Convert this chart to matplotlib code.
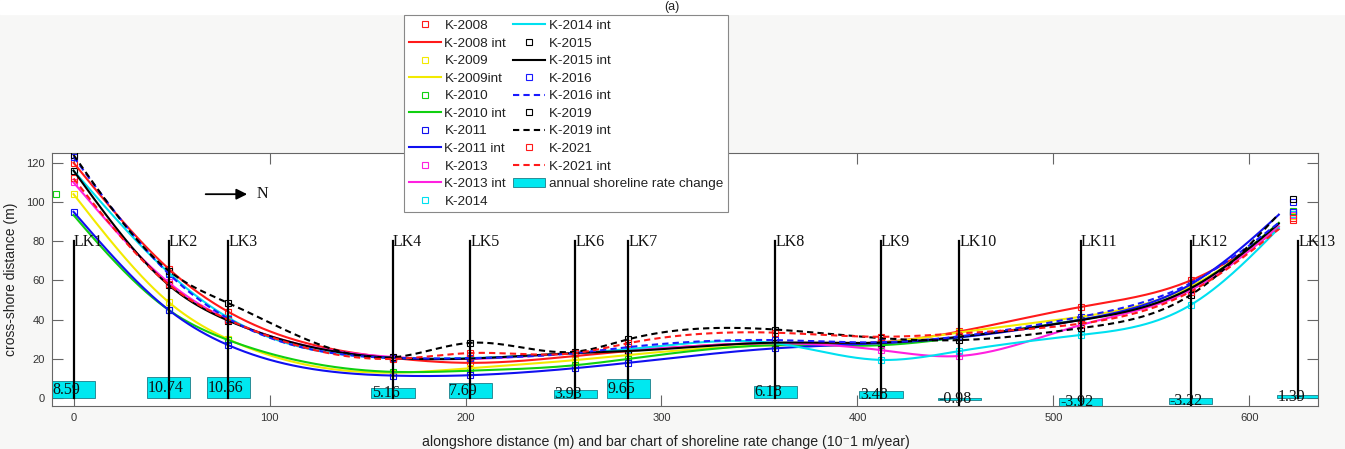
import numpy as np
import matplotlib
matplotlib.use("Agg")
import matplotlib.pyplot as plt
from matplotlib.lines import Line2D
from matplotlib.patches import Patch, Rectangle

# ---------------------------------------------------------------- data
station_names = ["LK1", "LK2", "LK3", "LK4", "LK5", "LK6", "LK7",
                 "LK8", "LK9", "LK10", "LK11", "LK12", "LK13"]
station_x = [0, 48.5, 79, 163, 202.5, 256, 283, 358, 412, 452, 514, 570, 625]

# annual shoreline rate change (10^-1 m/year) at each station
rate_change = [8.59, 10.74, 10.66, 5.16, 7.69, 3.93, 9.65,
               6.18, 3.48, -0.98, -3.92, -3.22, 1.39]

# survey positions along the shore (m) and cross-shore distance (m) per year
survey_x = [0, 48.5, 79, 163, 202.5, 256, 283, 358, 412, 452, 514, 570, 622]
survey_x_2010 = [-9, 48.5, 79, 163, 202.5, 256, 283, 358, 412, 452, 514, 570, 622]

k2008 = [120, 66, 44, 20.5, 18.0, 21.5, 24.0, 28.0, 28.5, 34.0, 46.5, 60.0, 91.0]
k2009 = [104, 49, 30, 13.0, 15.3, 19.4, 22.0, 27.0, 28.3, 33.5, 41.5, 57.0, 93.0]
k2010 = [104, 45, 29.6, 13.4, 14.0, 16.8, 20.0, 27.0, 27.0, 31.0, 40.0, 56.0, 95.5]
k2011 = [95, 45, 27, 11.5, 11.7, 15.3, 18.0, 25.4, 28.0, 31.0, 40.0, 58.0, 100.0]
k2013 = [110, 59, 40, 21.0, 20.0, 23.0, 24.5, 28.0, 24.5, 21.5, 37.3, 55.0, 93.5]
k2014 = [116, 64, 41, 20.5, 20.4, 23.0, 25.0, 28.0, 19.5, 24.0, 32.2, 47.5, 94.0]
k2015 = [116, 57.7, 39.5, 20.5, 20.2, 23.0, 24.0, 28.3, 28.3, 31.3, 39.8, 56.0, 95.0]
k2016 = [123, 63.5, 40.5, 20.5, 20.4, 23.0, 26.0, 29.6, 28.5, 31.5, 41.5, 58.6, 95.0]
k2019 = [124, 65, 48.5, 20.8, 28.2, 23.7, 30.0, 35.0, 30.6, 29.6, 35.7, 52.6, 101.6]
k2021 = [112, 58, 40, 20.0, 23.0, 23.0, 28.0, 33.4, 31.3, 33.0, 38.0, 54.3, 92.0]

years = ["2008", "2009", "2010", "2011", "2013", "2014",
         "2015", "2016", "2019", "2021"]
year_values = [k2008, k2009, k2010, k2011, k2013, k2014,
               k2015, k2016, k2019, k2021]
year_positions = [survey_x, survey_x, survey_x_2010, survey_x, survey_x,
                  survey_x, survey_x, survey_x, survey_x, survey_x]

# ---------------------------------------------------------------- styles
year_colors = ["#ff1a1a", "#f2ea00", "#10d010", "#1010f0", "#ff20e0",
               "#00e0f0", "#000000", "#1a1aff", "#000000", "#ff1a1a"]
year_dashed = [False, False, False, False, False, False,
               False, True, True, True]
int_labels = ["K-2008 int", "K-2009int", "K-2010 int", "K-2011 int",
              "K-2013 int", "K-2014 int", "K-2015 int", "K-2016 int",
              "K-2019 int", "K-2021 int"]
bar_color = "#00e8f0"
sans = ["Liberation Sans", "DejaVu Sans"]
serif = ["Liberation Serif", "DejaVu Serif"]


def natural_spline(xk, yk, xs):
    """Evaluate a natural cubic spline through (xk, yk) at xs."""
    xk = np.asarray(xk, float)
    yk = np.asarray(yk, float)
    n = len(xk)
    h = np.diff(xk)
    A = np.zeros((n, n))
    r = np.zeros(n)
    A[0, 0] = A[-1, -1] = 1.0
    for i in range(1, n - 1):
        A[i, i - 1] = h[i - 1]
        A[i, i] = 2 * (h[i - 1] + h[i])
        A[i, i + 1] = h[i]
        r[i] = 3 * ((yk[i + 1] - yk[i]) / h[i] - (yk[i] - yk[i - 1]) / h[i - 1])
    c = np.linalg.solve(A, r)
    b = (yk[1:] - yk[:-1]) / h - h * (2 * c[:-1] + c[1:]) / 3
    d = (c[1:] - c[:-1]) / (3 * h)
    idx = np.clip(np.searchsorted(xk, xs) - 1, 0, n - 2)
    dx = xs - xk[idx]
    return yk[idx] + b[idx] * dx + c[idx] * dx ** 2 + d[idx] * dx ** 3


# ---------------------------------------------------------------- figure
fig = plt.figure(figsize=(13.45, 4.49), dpi=100, facecolor="#f7f7f6")
fig.patches.append(Rectangle((0, 1 - 14 / 449), 1, 14 / 449,
                             transform=fig.transFigure, color="white",
                             zorder=0))
fig.text(672 / 1345, 1 - 7 / 449, "(a)", ha="center", va="center",
         fontsize=9, family=sans, color="#222")

ax = fig.add_axes([52 / 1345, 1 - 406 / 449, 1266 / 1345, 253 / 449])
ax.set_facecolor("white")
ax.set_xlim(-11, 635)
ax.set_ylim(-4, 125)

# bar chart of shoreline rate change
bar_w = 22
ax.bar(station_x, rate_change, width=bar_w, color=bar_color,
       edgecolor="#1b7d88", linewidth=0.6, zorder=2)
for x, v in zip(station_x, rate_change):
    ax.text(x - bar_w / 2 + 0.3, v / 2, f"{v:.2f}", ha="left", va="center",
            fontsize=11.5, family=serif, color="#111", zorder=6,
            clip_on=True)

# survey points and interpolated shorelines
xs = np.linspace(0, 615, 600)
for xp, vals, col, dashed in zip(year_positions, year_values,
                                 year_colors, year_dashed):
    ax.plot(xp, vals, linestyle="none", marker="s", markersize=5,
            markerfacecolor="none", markeredgecolor=col,
            markeredgewidth=0.8, zorder=3)
    ys = natural_spline(xp, vals, xs)
    ax.plot(xs, ys, color=col, linewidth=1.5,
            linestyle=(0, (3, 2)) if dashed else "-", zorder=4)

# transect lines and labels
for name, x, v in zip(station_names, station_x, rate_change):
    y0 = 0 if v >= 0 else -4
    ax.plot([x, x], [y0, 80], color="black", linewidth=1.6, zorder=5)
    ax.text(x, 79.5, name, ha="left", va="center", fontsize=11.5,
            family=serif, color="#111", zorder=6)

# north arrow
ax.annotate("", xy=(90, 104), xytext=(66, 104),
            arrowprops=dict(arrowstyle="-|>", color="black", lw=1.3,
                            mutation_scale=16))
ax.text(93.5, 104, "N", ha="left", va="center", fontsize=11.5,
        family=serif, color="#111")

# axes styling
ax.set_xticks([0, 100, 200, 300, 400, 500, 600])
ax.set_yticks([0, 20, 40, 60, 80, 100, 120])
ax.tick_params(direction="in", length=8, width=0.8, color="#666",
               labelsize=8, labelcolor="#333", top=True, right=True,
               pad=5)
for lbl in ax.get_xticklabels() + ax.get_yticklabels():
    lbl.set_family(sans)
for s in ax.spines.values():
    s.set_color("#666")
    s.set_linewidth(0.8)

ax.set_xlabel("alongshore distance (m) and bar chart of shoreline rate "
              "change (10\u207b1 m/year)", fontsize=10.2, family=sans,
              color="#222", labelpad=6)
ax.xaxis.set_label_coords((666 - 52) / 1266, -0.115)
ax.set_ylabel("cross-shore distance (m)", fontsize=10, family=sans,
              color="#222", labelpad=6)

# legend
handles, labels = [], []
for yr, col, dashed, il in zip(years, year_colors, year_dashed, int_labels):
    handles.append(Line2D([], [], linestyle="none", marker="s",
                          markersize=4.5, markerfacecolor="none",
                          markeredgecolor=col, markeredgewidth=0.8))
    labels.append(f"K-{yr}")
    handles.append(Line2D([], [], color=col, linewidth=1.5,
                          linestyle=(0, (3, 2)) if dashed else "-"))
    labels.append(il)
handles.append(Patch(facecolor=bar_color, edgecolor="#1b7d88", linewidth=0.6))
labels.append("annual shoreline rate change")

leg = fig.legend(handles, labels, ncol=2, loc="upper left",
                 bbox_to_anchor=(404 / 1345, 1 - 15 / 449),
                 bbox_transform=fig.transFigure, borderaxespad=0,
                 prop={"family": sans, "size": 9.7},
                 frameon=True, fancybox=False, framealpha=1,
                 edgecolor="#888", borderpad=0.35, labelspacing=0.38,
                 handlelength=2.4, handletextpad=0.25, columnspacing=0.5)
leg.get_frame().set_linewidth(0.8)
for t in leg.get_texts():
    t.set_color("#222")

fig.savefig("out.png", dpi=100, facecolor=fig.get_facecolor())
